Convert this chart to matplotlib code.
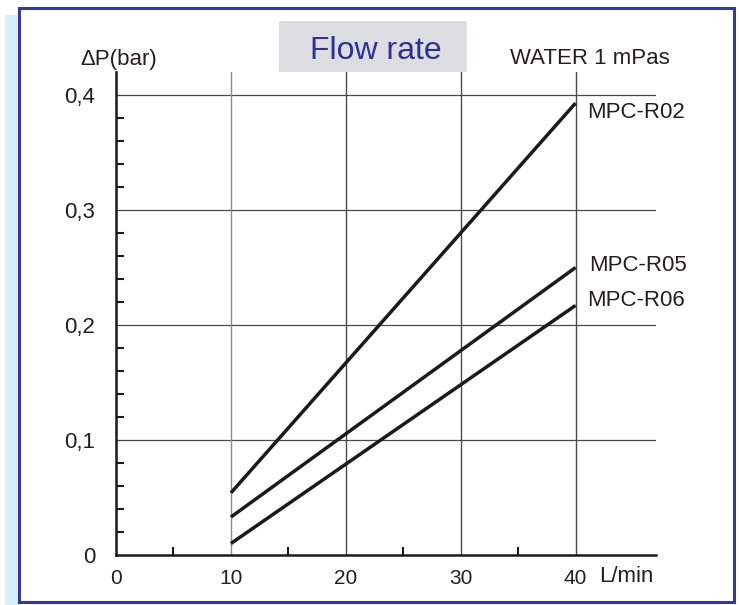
import matplotlib
matplotlib.use("Agg")
import matplotlib.pyplot as plt
from matplotlib.patches import Rectangle
from matplotlib.ticker import FixedLocator

plt.rcParams['font.family'] = ['Liberation Sans', 'DejaVu Sans']

flow = [10, 40]
series_names = ["MPC-R02", "MPC-R05", "MPC-R06"]
dp_r02 = [0.054, 0.393]
dp_r05 = [0.033, 0.250]
dp_r06 = [0.010, 0.217]
x_ticks = [0, 10, 20, 30, 40]
x_tick_labels = ["0", "10", "20", "30", "40"]
y_ticks = [0, 0.1, 0.2, 0.3, 0.4]
y_tick_labels = ["0", "0,1", "0,2", "0,3", "0,4"]

W, H = 739, 605
fig = plt.figure(figsize=(W / 100, H / 100), dpi=100)
fig.patch.set_facecolor("white")

# decorative frame (drawn beneath the axes)
fig.patches.append(Rectangle((5 / W, 0), 16 / W, (H - 15) / H, transform=fig.transFigure,
                             facecolor="#d8eef9", edgecolor="none", zorder=-3))
fig.patches.append(Rectangle((19 / W, (H - 602) / H), (734 - 19) / W, (602 - 8) / H,
                             transform=fig.transFigure, facecolor="white",
                             edgecolor="#353a96", linewidth=2.2, zorder=-2))
fig.patches.append(Rectangle((279 / W, (H - 72) / H), (467 - 279) / W, (72 - 21) / H,
                             transform=fig.transFigure, facecolor="#dcdde0",
                             edgecolor="none", zorder=-1))
fig.text(376 / W, (H - 51) / H, "Flow rate", ha="center", va="center",
         fontsize=23, color="#2e3192", zorder=3)

ax = fig.add_axes([116 / W, 50 / H, 540 / W, 483 / H])
ax.set_facecolor("none")
ax.set_xlim(0, 47)
ax.set_ylim(0, 0.42)

for s in ["top", "right"]:
    ax.spines[s].set_visible(False)
for s in ["left", "bottom"]:
    ax.spines[s].set_linewidth(1.8)
    ax.spines[s].set_color("#1a1a1a")

grid_col = "#4a4a4a"
for yv in y_ticks[1:]:
    ax.axhline(yv, color=grid_col, lw=0.9, zorder=1)
for xv in x_ticks[1:]:
    ax.axvline(xv, color="#8a8a8a" if xv == 10 else grid_col, lw=1.0, zorder=1)

ax.set_xticks(x_ticks)
ax.set_xticklabels(x_tick_labels)
ax.set_yticks(y_ticks)
ax.set_yticklabels(y_tick_labels)
ax.tick_params(axis="both", which="major", length=0, labelsize=15, labelcolor="#231f20")
ax.tick_params(axis="y", which="major", labelsize=16, pad=15)
ax.tick_params(axis="x", which="major", pad=10)
ax.xaxis.set_minor_locator(FixedLocator([5, 15, 25, 35]))
ax.yaxis.set_minor_locator(FixedLocator([0.02, 0.04, 0.06, 0.08, 0.12, 0.14, 0.16, 0.18,
                                         0.22, 0.24, 0.26, 0.28, 0.32, 0.34, 0.36, 0.38]))
ax.tick_params(axis="both", which="minor", direction="in", length=6, width=1.5, color="#1a1a1a")

for vals in [dp_r02, dp_r05, dp_r06]:
    ax.plot(flow, vals, color="#1a1a1a", lw=2.5, solid_capstyle="butt", zorder=3)

ax.text(41.0, dp_r02[1] - 0.008, series_names[0], fontsize=16, color="#231f20", va="center", ha="left")
ax.text(41.2, dp_r05[1] + 0.002, series_names[1], fontsize=16, color="#231f20", va="center", ha="left")
ax.text(41.0, dp_r06[1] + 0.004, series_names[2], fontsize=16, color="#231f20", va="center", ha="left")

fig.text(80 / W, (H - 59) / H, "\u0394P(bar)", fontsize=16, color="#231f20", va="center", ha="left")
fig.text(670 / W, (H - 59) / H, "WATER 1 mPas", fontsize=16, color="#231f20", va="center", ha="right")
fig.text(599 / W, (H - 577) / H, "L/min", fontsize=16, color="#231f20", va="center", ha="left")

fig.savefig("out.png", dpi=100)
